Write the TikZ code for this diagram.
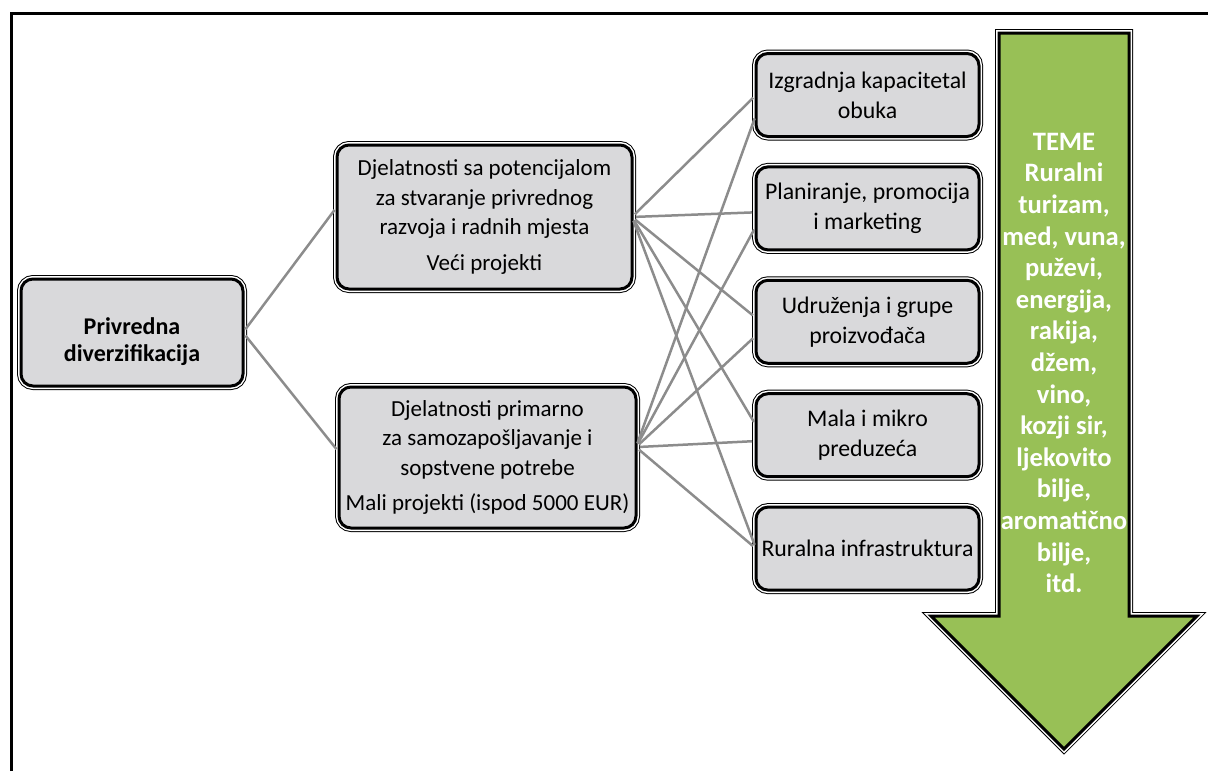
\documentclass[tikz,border=0pt]{standalone}
\usepackage{fontspec}
\setmainfont{Carlito}
\usepackage{xcolor}
\usetikzlibrary{positioning}
\definecolor{boxgray}{RGB}{217,217,219}
\definecolor{linkgray}{RGB}{140,140,140}
\definecolor{temegreen}{RGB}{152,192,86}

\begin{document}
\begin{tikzpicture}[x=0.5pt, y=-0.5pt,
  frame/.style={preaction={draw=black, line width=4pt},
    preaction={draw=white, line width=3pt}, draw=black, line width=1.5pt},
  box/.style={frame, rounded corners=6pt, fill=boxgray, align=center,
    outer sep=0pt, inner sep=1pt, font=\fontsize{11.5}{14.7}\selectfont},
  rbox/.style={box, minimum width=111.5pt, minimum height=41.5pt,
    font=\fontsize{11.9}{15}\selectfont},
  link/.style={draw=linkgray, line width=1.25pt, shorten <=2pt, shorten >=2pt}]
\useasboundingbox (0,0) rectangle (1208,771);
\draw[line width=1.5pt] (11,771) -- (11,13) -- (1208,13);

% themes arrow
\draw[frame, fill=temegreen] (999,33) -- (1129,33) -- (1129,616) -- (1197,616)
  -- (1064,749) -- (931,616) -- (999,616) -- cycle;
\node[text=white, align=center, font=\bfseries\fontsize{13.3}{15.8}\selectfont]
  (teme) at (1064,363) {TEME\\Ruralni\\turizam,\\med, vuna,\\puževi,\\energija,\\rakija,\\džem,\\vino,\\kozji sir,\\ljekovito\\bilje,\\aromatično\\bilje,\\itd.};

\node[box, minimum width=111pt, minimum height=53.5pt, text height=31pt,
  font=\bfseries\fontsize{12}{13.5}\selectfont]
  (root) at (132,332.5) {Privredna\\diverzifikacija};
\node[box, minimum width=147.5pt, minimum height=72pt] (bigproj) at (484.5,217)
  {Djelatnosti sa potencijalom\\za stvaranje privrednog\\razvoja i radnih mjesta\\[3pt]Veći projekti};
\node[box, minimum width=148.5pt, minimum height=70.5pt] (smallproj) at (487.5,457.5)
  {Djelatnosti primarno\\za samozapošljavanje i\\sopstvene potrebe\\[3pt]Mali projekti (ispod 5000 EUR)};

\node[rbox] (capac) at (867.5,95) {Izgradnja kapacitetal\\obuka};
\node[rbox, below=15.2pt of capac] (promo) {Planiranje, promocija\\i marketing};
\node[rbox, below=15.2pt of promo] (assoc) {Udruženja i grupe\\proizvođača};
\node[rbox, below=15.2pt of assoc] (micro) {Mala i mikro\\preduzeća};
\node[rbox, below=15.2pt of micro] (infra) {Ruralna infrastruktura};

\draw[link] (root.east) -- (bigproj.176.5);
\draw[link] (root.east) -- (smallproj.178);
\draw[link] (bigproj.east) -- (capac.180);
\draw[link] (bigproj.east) -- (promo.182.6);
\draw[link] (bigproj.east) -- (assoc.178.7);
\draw[link] (bigproj.east) -- (micro.175.4);
\draw[link] (bigproj.east) -- (infra.west);
\draw[link] (smallproj.4) -- (capac.190.7);
\draw[link] (smallproj.4) -- (promo.189.7);
\draw[link] (smallproj.4) -- (assoc.187.4);
\draw[link] (smallproj.4) -- (micro.183.6);
\draw[link] (smallproj.4) -- (infra.west);
\end{tikzpicture}
\end{document}
